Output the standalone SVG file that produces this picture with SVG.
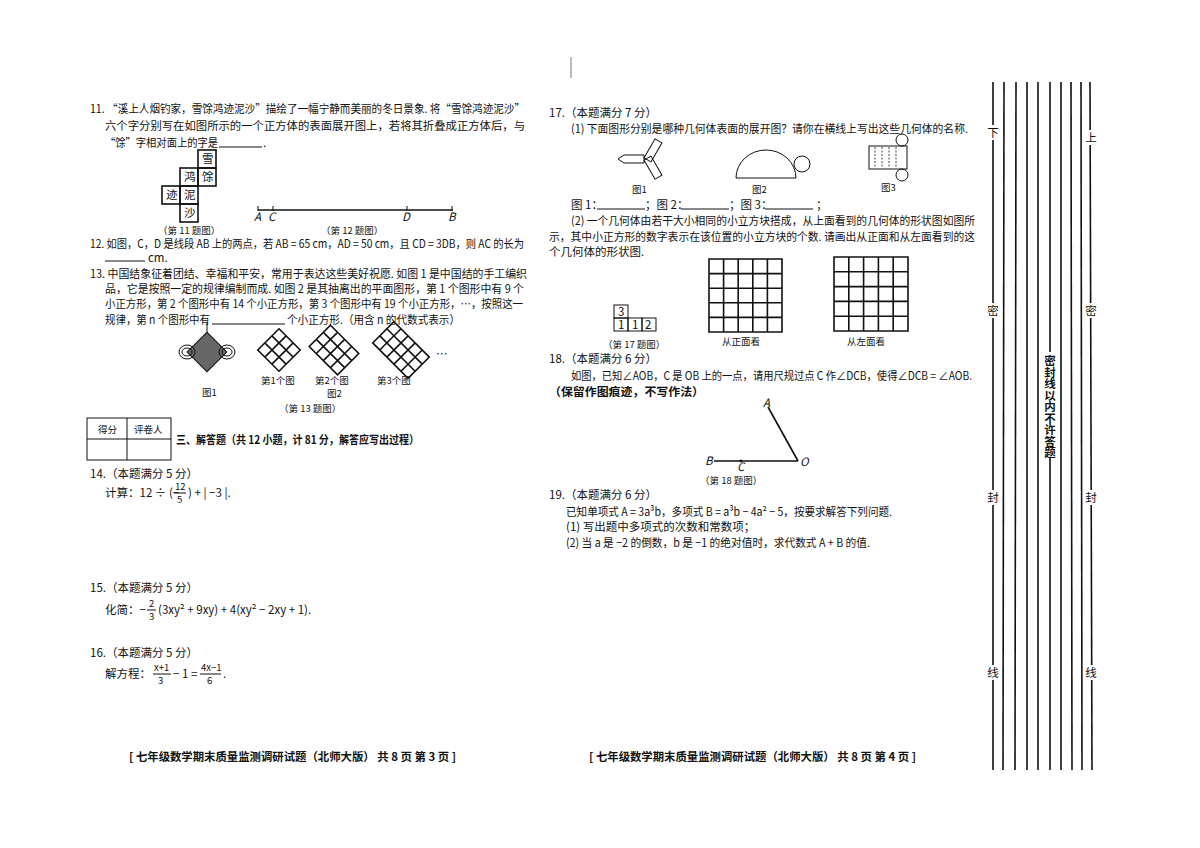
<svg xmlns="http://www.w3.org/2000/svg" width="1200" height="848" viewBox="0 0 1200 848">
<style>
text{font-family:"Noto Sans CJK SC","Liberation Serif",serif;font-size:11.5px;fill:#111}
.b{font-weight:bold}
.s{font-size:9.5px}
.ln{stroke:#111;stroke-width:1;fill:none}
.ln2{stroke:#111;stroke-width:1.6;fill:none}
.v{writing-mode:tb;font-size:10px}
</style>
<rect width="1200" height="848" fill="#fff"/>
<line x1="571" y1="57" x2="571" y2="78" stroke="#777" stroke-width="1"/>
<g id="q11">
<text x="90" y="113" textLength="435" lengthAdjust="spacingAndGlyphs">11. “溪上人烟钓家，雪馀鸿迹泥沙”描绘了一幅宁静而美丽的冬日景象. 将“雪馀鸿迹泥沙”</text>
<text x="105" y="130" textLength="420" lengthAdjust="spacingAndGlyphs">六个字分别写在如图所示的一个正方体的表面展开图上，若将其折叠成正方体后，与</text>
<text x="105" y="147" textLength="113" lengthAdjust="spacingAndGlyphs">“馀”字相对面上的字是</text>
<line x1="219" y1="147" x2="262" y2="147" class="ln"/><text x="263" y="147">.</text>
<g class="ln2"><rect x="198" y="150" width="18" height="18"/><rect x="180" y="168" width="18" height="18"/><rect x="198" y="168" width="18" height="18"/><rect x="162" y="186" width="18" height="18"/><rect x="180" y="186" width="18" height="18"/><rect x="180" y="204" width="18" height="18"/></g>
<g class="s"><text x="202" y="163">雪</text><text x="184" y="181">鸿</text><text x="202" y="181">馀</text><text x="166" y="199">迹</text><text x="184" y="199">泥</text><text x="184" y="217">沙</text></g>
<text x="158" y="234" class="s">（第 11 题图）</text>
</g>
<g id="q12">
<line x1="258" y1="210" x2="453" y2="210" class="ln2"/>
<g class="ln"><line x1="258" y1="206" x2="258" y2="211"/><line x1="273" y1="206" x2="273" y2="211"/><line x1="407" y1="206" x2="407" y2="211"/><line x1="452" y1="206" x2="452" y2="211"/></g>
<g font-style="italic"><text x="254" y="221">A</text><text x="268" y="221">C</text><text x="402" y="221">D</text><text x="448" y="221">B</text></g>
<text x="321" y="234" class="s">（第 12 题图）</text>
<text x="90" y="248" textLength="434" lengthAdjust="spacingAndGlyphs">12. 如图，C，D 是线段 AB 上的两点，若 AB = 65 cm，AD = 50 cm，且 CD = 3DB，则 AC 的长为</text>
<line x1="105" y1="261" x2="145" y2="261" class="ln"/><text x="148" y="262">cm.</text>
</g>
<g id="q13">
<text x="90" y="278" textLength="437" lengthAdjust="spacingAndGlyphs">13. 中国结象征着团结、幸福和平安，常用于表达这些美好祝愿. 如图 1 是中国结的手工编织</text>
<text x="105" y="293" textLength="419" lengthAdjust="spacingAndGlyphs">品，它是按照一定的规律编制而成. 如图 2 是其抽离出的平面图形，第 1 个图形中有 9 个</text>
<text x="105" y="308" textLength="418" lengthAdjust="spacingAndGlyphs">小正方形，第 2 个图形中有 14 个小正方形，第 3 个图形中有 19 个小正方形，…，按照这一</text>
<text x="105" y="324" textLength="105" lengthAdjust="spacingAndGlyphs">规律，第 n 个图形中有</text>
<line x1="212" y1="324" x2="285" y2="324" class="ln"/>
<text x="287" y="324" textLength="173" lengthAdjust="spacingAndGlyphs">个小正方形.（用含 n 的代数式表示）</text>
<g transform="translate(207,352)"><rect x="-14" y="-14" width="28" height="28" transform="rotate(45)" fill="#666" stroke="#111"/><ellipse cx="-20" cy="0" rx="8" ry="7" class="ln"/><ellipse cx="-20" cy="0" rx="5" ry="4" class="ln"/><ellipse cx="20" cy="0" rx="8" ry="7" class="ln"/><ellipse cx="20" cy="0" rx="5" ry="4" class="ln"/><line x1="0" y1="-20" x2="0" y2="-30" class="ln"/></g>
<g class="ln2">
<g transform="translate(279,350) rotate(45)"><path d="M-15-15h30v30h-30z M-5-15v30 M5-15v30 M-15-5h30 M-15 5h30"/></g>
<g transform="translate(334,350) rotate(45)"><path d="M-20-15h40v30h-40z M-10-15v30 M0-15v30 M10-15v30 M-20-5h40 M-20 5h40"/></g>
<g transform="translate(401,350) rotate(45)"><path d="M-25-15h50v30h-50z M-15-15v30 M-5-15v30 M5-15v30 M15-15v30 M-25-5h50 M-25 5h50"/></g>
</g>
<text x="436" y="358">…</text>
<text x="202" y="396" class="s">图1</text>
<text x="261" y="384" class="s">第1个图</text><text x="315" y="384" class="s">第2个图</text><text x="377" y="384" class="s">第3个图</text>
<text x="327" y="397" class="s">图2</text>
<text x="279" y="412" class="s">（第 13 题图）</text>
</g>
<g id="score">
<g class="ln"><rect x="87" y="418" width="84" height="42"/><line x1="87" y1="439" x2="171" y2="439"/><line x1="127" y1="418" x2="127" y2="460"/></g>
<text x="98" y="433" class="s">得分</text><text x="134" y="433" class="s">评卷人</text>
<text x="176" y="444" class="b" textLength="243" lengthAdjust="spacingAndGlyphs">三、解答题（共 12 小题，计 81 分，解答应写出过程）</text>
</g>
<g id="q14-16">
<text x="90" y="478">14.（本题满分 5 分）</text>
<text x="105" y="497">计算：12 ÷ (−</text><text x="175" y="490" class="s">12</text><line x1="174" y1="493" x2="186" y2="493" class="ln"/><text x="177" y="503" class="s">5</text><text x="188" y="497">) + | −3 |.</text>
<text x="90" y="592">15.（本题满分 5 分）</text>
<text x="105" y="614">化简：−</text><text x="149" y="607" class="s">2</text><line x1="147" y1="610" x2="156" y2="610" class="ln"/><text x="149" y="620" class="s">3</text><text x="158" y="614">(3xy² + 9xy) + 4(xy² − 2xy + 1).</text>
<text x="90" y="657">16.（本题满分 5 分）</text>
<text x="105" y="678">解方程：</text><text x="154" y="671" class="s">x+1</text><line x1="153" y1="674" x2="171" y2="674" class="ln"/><text x="158" y="684" class="s">3</text><text x="173" y="678">− 1 =</text><text x="201" y="671" class="s">4x−1</text><line x1="200" y1="674" x2="221" y2="674" class="ln"/><text x="207" y="684" class="s">6</text><text x="223" y="678">.</text>
</g>
<text x="129" y="761" class="b" textLength="327" lengthAdjust="spacingAndGlyphs">[ 七年级数学期末质量监测调研试题（北师大版） 共 8 页 第 3 页 ]</text>
<g id="q17">
<text x="549" y="117">17.（本题满分 7 分）</text>
<text x="571" y="133" textLength="397" lengthAdjust="spacingAndGlyphs">(1) 下面图形分别是哪种几何体表面的展开图？请你在横线上写出这些几何体的名称.</text>
<g class="ln">
<path d="M618 159 l6-4 h20 v8 h-20 z"/>
<rect x="644" y="138" width="8" height="22" transform="rotate(30 648 159)"/>
<rect x="644" y="158" width="8" height="22" transform="rotate(-30 648 159)"/>
<path d="M736 178 A30 28 0 0 1 796 178 Z"/><circle cx="802" cy="164" r="8"/>
<rect x="869" y="146" width="38" height="23"/><circle cx="902" cy="140" r="6"/><circle cx="902" cy="175" r="6"/>
</g>
<g stroke="#111" stroke-dasharray="2 1.5" stroke-width=".8"><line x1="875" y1="147" x2="875" y2="168"/><line x1="882" y1="147" x2="882" y2="168"/><line x1="889" y1="147" x2="889" y2="168"/><line x1="896" y1="147" x2="896" y2="168"/></g>
<text x="632" y="193" class="s">图1</text><text x="752" y="193" class="s">图2</text><text x="881" y="191" class="s">图3</text>
<text x="571" y="209">图 1：</text><line x1="597" y1="209" x2="645" y2="209" class="ln"/><text x="645" y="209">；图 2：</text><line x1="681" y1="209" x2="729" y2="209" class="ln"/><text x="729" y="209">；图 3：</text><line x1="765" y1="209" x2="813" y2="209" class="ln"/><text x="816" y="209">；</text>
<text x="571" y="225" textLength="404" lengthAdjust="spacingAndGlyphs">(2) 一个几何体由若干大小相同的小立方块搭成，从上面看到的几何体的形状图如图所</text>
<text x="549" y="241" textLength="426" lengthAdjust="spacingAndGlyphs">示，其中小正方形的数字表示在该位置的小立方块的个数. 请画出从正面和从左面看到的这</text>
<text x="549" y="256">个几何体的形状图.</text>
<g class="ln"><rect x="614" y="305" width="14" height="13"/><rect x="614" y="318" width="14" height="13"/><rect x="628" y="318" width="14" height="13"/><rect x="642" y="318" width="14" height="13"/></g>
<g class="s"><text x="618" y="316">3</text><text x="618" y="329">1</text><text x="632" y="329">1</text><text x="645" y="329">2</text></g>
<text x="603" y="348" class="s">（第 17 题图）</text>
<g class="ln2"><path d="M709 259h73v73h-73z M723.6 259v73 M738.2 259v73 M752.8 259v73 M767.4 259v73 M709 273.6h73 M709 288.2h73 M709 302.8h73 M709 317.4h73"/>
<path d="M834 257h74v74h-74z M848.8 257v74 M863.6 257v74 M878.4 257v74 M893.2 257v74 M834 271.8h74 M834 286.6h74 M834 301.4h74 M834 316.2h74"/></g>
<text x="722" y="345" class="s">从正面看</text><text x="847" y="345" class="s">从左面看</text>
</g>
<g id="q18">
<text x="549" y="363">18.（本题满分 6 分）</text>
<text x="571" y="380" textLength="401" lengthAdjust="spacingAndGlyphs">如图，已知∠AOB，C 是 OB 上的一点，请用尺规过点 C 作∠DCB，使得∠DCB = ∠AOB.</text>
<text x="549" y="396" class="b" textLength="155" lengthAdjust="spacingAndGlyphs">（保留作图痕迹，不写作法）</text>
<g class="ln2"><line x1="714" y1="461" x2="798" y2="461"/><line x1="798" y1="461" x2="768" y2="407"/></g>
<circle cx="741" cy="461" r="1.5" fill="#111"/>
<g font-style="italic"><text x="763" y="407">A</text><text x="705" y="465">B</text><text x="737" y="471">C</text><text x="800" y="466">O</text></g>
<text x="700" y="484" class="s">（第 18 题图）</text>
</g>
<g id="q19">
<text x="549" y="499">19.（本题满分 6 分）</text>
<text x="566" y="516" textLength="326" lengthAdjust="spacingAndGlyphs">已知单项式 A = 3a³b，多项式 B = a³b − 4a² − 5，按要求解答下列问题.</text>
<text x="566" y="531">(1) 写出题中多项式的次数和常数项；</text>
<text x="566" y="547" textLength="304" lengthAdjust="spacingAndGlyphs">(2) 当 a 是 −2 的倒数，b 是 −1 的绝对值时，求代数式 A + B 的值.</text>
</g>
<text x="589" y="761" class="b" textLength="327" lengthAdjust="spacingAndGlyphs">[ 七年级数学期末质量监测调研试题（北师大版） 共 8 页 第 4 页 ]</text>
<g id="binding">
<g class="ln2">
<line x1="993" y1="82" x2="993" y2="770"/><line x1="1004" y1="82" x2="1003" y2="770"/><line x1="1016" y1="82" x2="1015" y2="770"/><line x1="1027" y1="82" x2="1027" y2="770"/><line x1="1038" y1="82" x2="1038" y2="770"/><line x1="1050" y1="82" x2="1050" y2="770"/><line x1="1061" y1="82" x2="1061" y2="770"/><line x1="1071" y1="82" x2="1072" y2="770"/><line x1="1081" y1="82" x2="1082" y2="770"/><line x1="1090" y1="82" x2="1092" y2="770"/>
</g>
<g fill="#fff"><rect x="987" y="125" width="13" height="15"/><rect x="987" y="303" width="13" height="15"/><rect x="987" y="490" width="13" height="15"/><rect x="987" y="665" width="13" height="15"/><rect x="1084" y="130" width="13" height="15"/><rect x="1084" y="303" width="13" height="15"/><rect x="1084" y="490" width="13" height="15"/><rect x="1084" y="665" width="13" height="15"/><rect x="1043" y="352" width="14" height="106"/></g>
<g class="v"><text x="993" y="127">下</text><text x="993" y="305">密</text><text x="993" y="492">封</text><text x="993" y="667">线</text><text x="1091" y="132">上</text><text x="1091" y="305">密</text><text x="1091" y="492">封</text><text x="1091" y="667">线</text><text x="1050" y="355" class="b">密封线以内不许答题</text></g>
</g>
</svg>
